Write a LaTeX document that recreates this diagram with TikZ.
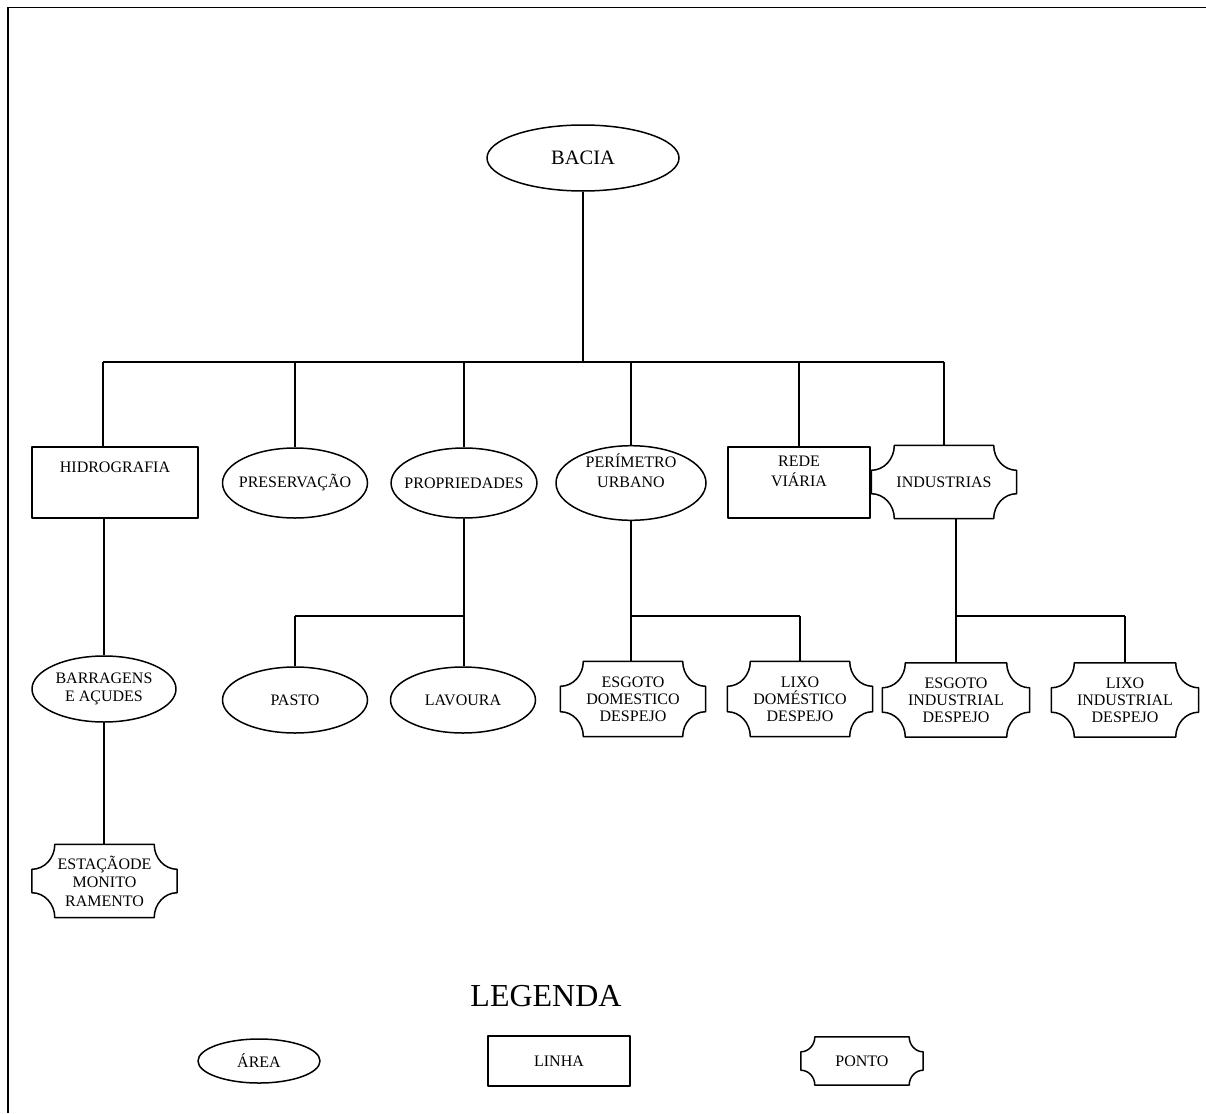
\documentclass[tikz,border=0pt]{standalone}
\usepackage{fontspec}
\setmainfont{Liberation Serif}
\usetikzlibrary{shapes.geometric,calc}
% #1 node, #2 horizontal corner radius, #3 vertical corner radius
\newcommand\pontoborder[3]{%
 \draw[shapeline] ($(#1.north west)+(#2,0pt)$) -- ($(#1.north east)+(-#2,0pt)$)
   .. controls ($(#1.north east)+(-#2,-0.552*#3)$) and ($(#1.north east)+(-0.552*#2,-#3)$) .. ($(#1.north east)+(0pt,-#3)$)
   -- ($(#1.south east)+(0pt,#3)$)
   .. controls ($(#1.south east)+(-0.552*#2,#3)$) and ($(#1.south east)+(-#2,0.552*#3)$) .. ($(#1.south east)+(-#2,0pt)$)
   -- ($(#1.south west)+(#2,0pt)$)
   .. controls ($(#1.south west)+(#2,0.552*#3)$) and ($(#1.south west)+(0.552*#2,#3)$) .. ($(#1.south west)+(0pt,#3)$)
   -- ($(#1.north west)+(0pt,-#3)$)
   .. controls ($(#1.north west)+(0.552*#2,-#3)$) and ($(#1.north west)+(#2,-0.552*#3)$) .. ($(#1.north west)+(#2,0pt)$) -- cycle;}
\begin{document}
\begin{tikzpicture}[x=1pt,y=-1pt,
  every node/.style={font=\fontsize{16}{17}\selectfont, align=center, inner sep=0pt},
  shapeline/.style={line width=1.5pt, line join=round},
  area/.style={draw, shapeline, ellipse, inner xsep=-8pt},
  linha/.style={draw, shapeline, rectangle},
  ponto/.style={rectangle},
  conn/.style={line width=1.5pt}]
\useasboundingbox (0,0) rectangle (1206,1113);
% frame
\draw[line width=1.8pt] (8,1113) -- (8,7.5) -- (1206,7.5);
% nodes level 0/1
\node[area, minimum width=192pt, minimum height=66pt, font=\fontsize{20.5}{24}\selectfont] (bacia) at (583,158) {BACIA};
\node[linha, minimum width=166pt, minimum height=71pt] (hid) at (115,482.5) {HIDROGRAFIA\\[14pt]\mbox{}};
\node[area, minimum width=145pt, minimum height=70pt] (pre) at (295,483) {PRESERVAÇÃO};
\node[area, minimum width=145pt, minimum height=70pt] (pro) at (464,483) {PROPRIEDADES};
\node[area, minimum width=150pt, minimum height=70pt, inner ysep=-2.5pt, font=\fontsize{16}{20}\selectfont] (per) at (631,483) {PERÍMETRO\\URBANO\\[4pt]\mbox{}};
\node[linha, minimum width=142pt, minimum height=71pt, font=\fontsize{16}{20}\selectfont] (red) at (799,482.5) {REDE\\VIÁRIA\\[2pt]\mbox{}};
\node[ponto, minimum width=145pt, minimum height=73pt] (ind) at (944,482) {INDUSTRIAS};
% level 2
\node[area, minimum width=144pt, minimum height=66pt, font=\fontsize{16}{18.5}\selectfont] (barr) at (104,689) {BARRAGENS\\E AÇUDES};
\node[ponto, minimum width=145pt, minimum height=73pt, font=\fontsize{16}{18.5}\selectfont] (est) at (104.5,881) {ESTAÇÃODE\\MONITO\\RAMENTO};
\node[area, minimum width=145pt, minimum height=66pt] (pasto) at (295,700) {PASTO};
\node[area, minimum width=145pt, minimum height=66pt] (lav) at (463,700) {LAVOURA};
\node[ponto, minimum width=145pt, minimum height=75pt] (esd) at (633,699) {ESGOTO\\DOMESTICO\\DESPEJO};
\node[ponto, minimum width=145pt, minimum height=75pt] (lxd) at (800,699) {LIXO\\DOMÉSTICO\\DESPEJO};
\node[ponto, minimum width=147pt, minimum height=74pt] (esi) at (956,700) {ESGOTO\\INDUSTRIAL\\DESPEJO};
\node[ponto, minimum width=147pt, minimum height=74pt] (lxi) at (1125,700) {LIXO\\INDUSTRIAL\\DESPEJO};
% legend
\node[font=\fontsize{32}{36}\selectfont] (leg) at (546,996) {LEGENDA};
\node[area, minimum width=122pt, minimum height=44pt] (larea) at (259,1061) {ÁREA};
\node[linha, minimum width=142pt, minimum height=50pt] (llinha) at (559,1061) {LINHA};
\node[ponto, minimum width=122pt, minimum height=48pt] (lponto) at (862,1061) {PONTO};
% ponto borders
\foreach \n in {ind,est,esd,lxd,esi,lxi} {\pontoborder{\n}{23pt}{25pt}}
\pontoborder{lponto}{14pt}{15pt}
% connectors
\coordinate (bL) at (103,362);
\coordinate (bR) at (944,362);
\draw[conn] (bacia.south) -- (bacia.south |- bL);
\draw[conn] (bL) -- (bR);
\draw[conn] (bL) -- (bL |- hid.north);
\foreach \n in {pre,pro,per,red,ind} {\draw[conn] (\n.north |- bL) -- (\n.north);}
\draw[conn] (hid.south -| barr.north) -- (barr.north);
\draw[conn] (barr.south) -- (barr.south |- est.north);
% propriedades branch
\coordinate (pb) at (464,616);
\draw[conn] (pro.south) -- (pb);
\draw[conn] (pasto.north |- pb) -- (pb);
\draw[conn] (pasto.north |- pb) -- (pasto.north);
\draw[conn] (pb) -- (lav.north -| pb);
% perimetro branch
\coordinate (ub) at (631,616);
\draw[conn] (per.south) -- (ub);
\draw[conn] (ub) -- (lxd.north |- ub);
\draw[conn] (ub) -- (esd.north -| ub);
\draw[conn] (lxd.north |- ub) -- (lxd.north);
% industrias branch
\coordinate (ib) at (956,616);
\draw[conn] (ind.south -| ib) -- (ib);
\draw[conn] (ib) -- (lxi.north |- ib);
\draw[conn] (ib) -- (esi.north);
\draw[conn] (lxi.north |- ib) -- (lxi.north);
\end{tikzpicture}
\end{document}
